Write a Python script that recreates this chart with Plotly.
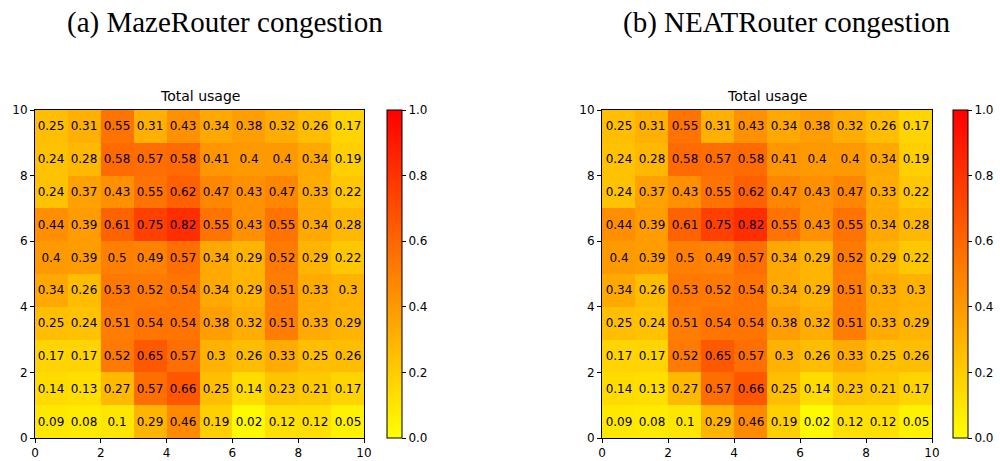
import plotly.graph_objects as go

# Values, rows listed from top (y=9..10) to bottom (y=0..1)
maze_rows = [
    [0.25, 0.31, 0.55, 0.31, 0.43, 0.34, 0.38, 0.32, 0.26, 0.17],
    [0.24, 0.28, 0.58, 0.57, 0.58, 0.41, 0.4, 0.4, 0.34, 0.19],
    [0.24, 0.37, 0.43, 0.55, 0.62, 0.47, 0.43, 0.47, 0.33, 0.22],
    [0.44, 0.39, 0.61, 0.75, 0.82, 0.55, 0.43, 0.55, 0.34, 0.28],
    [0.4, 0.39, 0.5, 0.49, 0.57, 0.34, 0.29, 0.52, 0.29, 0.22],
    [0.34, 0.26, 0.53, 0.52, 0.54, 0.34, 0.29, 0.51, 0.33, 0.3],
    [0.25, 0.24, 0.51, 0.54, 0.54, 0.38, 0.32, 0.51, 0.33, 0.29],
    [0.17, 0.17, 0.52, 0.65, 0.57, 0.3, 0.26, 0.33, 0.25, 0.26],
    [0.14, 0.13, 0.27, 0.57, 0.66, 0.25, 0.14, 0.23, 0.21, 0.17],
    [0.09, 0.08, 0.1, 0.29, 0.46, 0.19, 0.02, 0.12, 0.12, 0.05],
]
neat_rows = [
    [0.25, 0.31, 0.55, 0.31, 0.43, 0.34, 0.38, 0.32, 0.26, 0.17],
    [0.24, 0.28, 0.58, 0.57, 0.58, 0.41, 0.4, 0.4, 0.34, 0.19],
    [0.24, 0.37, 0.43, 0.55, 0.62, 0.47, 0.43, 0.47, 0.33, 0.22],
    [0.44, 0.39, 0.61, 0.75, 0.82, 0.55, 0.43, 0.55, 0.34, 0.28],
    [0.4, 0.39, 0.5, 0.49, 0.57, 0.34, 0.29, 0.52, 0.29, 0.22],
    [0.34, 0.26, 0.53, 0.52, 0.54, 0.34, 0.29, 0.51, 0.33, 0.3],
    [0.25, 0.24, 0.51, 0.54, 0.54, 0.38, 0.32, 0.51, 0.33, 0.29],
    [0.17, 0.17, 0.52, 0.65, 0.57, 0.3, 0.26, 0.33, 0.25, 0.26],
    [0.14, 0.13, 0.27, 0.57, 0.66, 0.25, 0.14, 0.23, 0.21, 0.17],
    [0.09, 0.08, 0.1, 0.29, 0.46, 0.19, 0.02, 0.12, 0.12, 0.05],
]
cell_centers = [0.5, 1.5, 2.5, 3.5, 4.5, 5.5, 6.5, 7.5, 8.5, 9.5]
tick_vals = [0, 2, 4, 6, 8, 10]
cbar_ticks = [0.0, 0.2, 0.4, 0.6, 0.8, 1.0]
panel_titles = ["(a) MazeRouter congestion", "(b) NEATRouter congestion"]
sub_title = "Total usage"

W, H = 1000, 461
autumn_r = [[0.0, "rgb(255,255,0)"], [1.0, "rgb(255,0,0)"]]

def px(x):
    return x / W

def py(y):
    return 1 - y / H

panels = [
    dict(rows=maze_rows, x0=35, x1=364, cb=387, xa="x", ya="y"),
    dict(rows=neat_rows, x0=602, x1=932, cb=953, xa="x2", ya="y2"),
]
top, bottom = 110, 438

fig = go.Figure()
layout = dict(
    template="none",
    width=W, height=H,
    margin=dict(l=0, r=0, t=0, b=0, autoexpand=False),
    paper_bgcolor="white", plot_bgcolor="white",
    font=dict(family="DejaVu Sans", size=12, color="black"),
    showlegend=False,
)
annotations = []
for i, p in enumerate(panels):
    z = p["rows"][::-1]
    text = [[str(v) for v in r] for r in z]
    fig.add_trace(go.Heatmap(
        z=z, x=cell_centers, y=cell_centers,
        text=text, texttemplate="%{text}",
        textfont=dict(family="DejaVu Sans", size=12, color="black"),
        colorscale=autumn_r, zmin=0, zmax=1,
        xaxis=p["xa"], yaxis=p["ya"],
        colorbar=dict(
            x=px(p["cb"]), xanchor="left", xref="paper",
            y=py(bottom), yanchor="bottom", yref="paper",
            len=(bottom - top) / H, lenmode="fraction",
            thickness=15, thicknessmode="pixels",
            outlinewidth=1, outlinecolor="black",
            tickvals=cbar_ticks, ticktext=[f"{t:.1f}" for t in cbar_ticks],
            ticks="outside", ticklen=4, tickcolor="black", tickwidth=1,
            tickfont=dict(family="DejaVu Sans", size=12),
            xpad=0, ypad=0, borderwidth=0,
        ),
        hoverinfo="skip",
    ))
    common = dict(
        range=[0, 10], tickvals=tick_vals,
        ticks="outside", ticklen=4, tickcolor="black", tickwidth=1,
        showline=True, linecolor="black", linewidth=1, mirror=True,
        showgrid=False, zeroline=False, automargin=False,
        tickfont=dict(family="DejaVu Sans", size=12),
    )
    ax = dict(domain=[px(p["x0"]), px(p["x1"])], **common)
    ay = dict(domain=[py(bottom), py(top)], **common)
    sfx = "" if i == 0 else "2"
    ax["anchor"] = "y" + sfx
    ay["anchor"] = "x" + sfx
    layout["xaxis" + sfx] = ax
    layout["yaxis" + sfx] = ay
    cx = (p["x0"] + p["x1"]) / 2
    annotations.append(dict(
        text=sub_title, x=px(cx), y=py(96), xref="paper", yref="paper",
        xanchor="center", yanchor="middle", showarrow=False,
        font=dict(family="DejaVu Sans", size=14, color="black"),
    ))
annotations.append(dict(
    text=panel_titles[0], x=px(225), y=py(22), xref="paper", yref="paper",
    xanchor="center", yanchor="middle", showarrow=False,
    font=dict(family="Liberation Serif", size=29, color="black"),
))
annotations.append(dict(
    text=panel_titles[1], x=px(786), y=py(22), xref="paper", yref="paper",
    xanchor="center", yanchor="middle", showarrow=False,
    font=dict(family="Liberation Serif", size=29, color="black"),
))
layout["annotations"] = annotations
fig.update_layout(**layout)
fig.write_html("out.html")
